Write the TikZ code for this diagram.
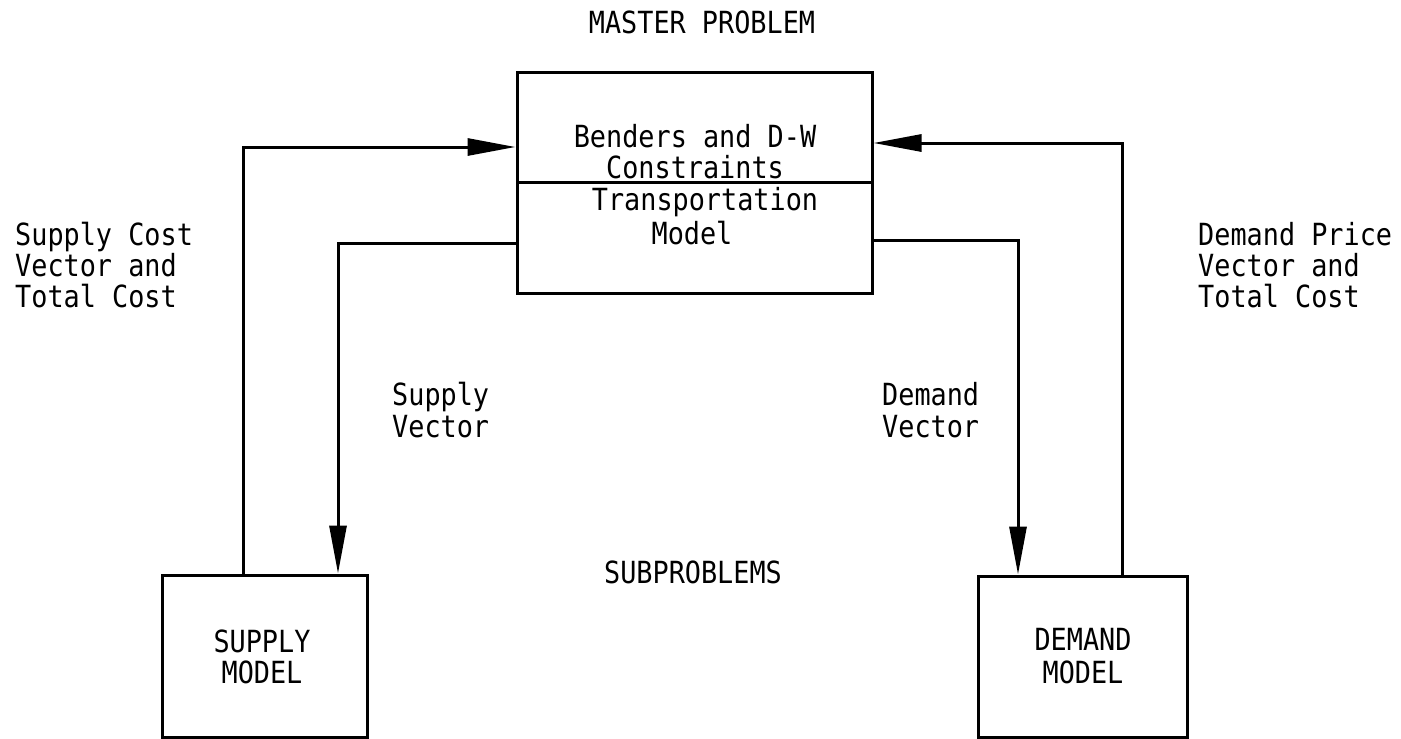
\documentclass[tikz,border=0pt]{standalone}
\usepackage{fontspec}
\newfontfamily\twfont[FakeStretch=0.88]{DejaVu Sans Mono}
\usetikzlibrary{arrows.meta}
\begin{document}
\begin{tikzpicture}[x=1pt,y=-1pt,
  box/.style={draw, line width=3pt, rectangle, inner sep=0pt},
  conn/.style={line width=3pt},
  arr/.style={conn, -{Triangle[length=48pt,width=17pt]}},
  txt/.style={font=\twfont\fontsize{30.5}{31}\selectfont, inner sep=0pt, anchor=base},
  ltxt/.style={txt, anchor=base west}]
\useasboundingbox (0,0) rectangle (1401,739);
% boxes
\node[box, minimum width=355pt, minimum height=110pt] (mtop) at (694.5,127) {};
\node[box, minimum width=355pt, minimum height=111pt] (mbot) at (694.5,237.5) {};
\node[box, minimum width=205pt, minimum height=162pt] (supply) at (264.5,656) {};
\node[box, minimum width=209pt, minimum height=161pt] (demand) at (1082.5,656.5) {};
% texts
\node[txt] (tmaster) at (702,33) {MASTER PROBLEM};
\node[txt] (tbend) at (695,147) {Benders and D-W};
\node[txt] (tcons) at (695,178) {Constraints};
\node[txt] (ttrans) at (705,210) {Transportation};
\node[txt] (tmodel) at (692,244) {Model};
\node[ltxt] (sc1) at (15,245) {Supply Cost};
\node[ltxt] (sc2) at (15,276) {Vector and};
\node[ltxt] (sc3) at (15,307) {Total Cost};
\node[ltxt] (dp1) at (1198,245) {Demand Price};
\node[ltxt] (dp2) at (1198,276) {Vector and};
\node[ltxt] (dp3) at (1198,307) {Total Cost};
\node[ltxt] (sv1) at (392,405) {Supply};
\node[ltxt] (sv2) at (392,437) {Vector};
\node[ltxt] (dv1) at (882,405) {Demand};
\node[ltxt] (dv2) at (882,437) {Vector};
\node[txt] (tsub) at (693,583) {SUBPROBLEMS};
\node[txt] (ts1) at (262,652) {SUPPLY};
\node[txt] (ts2) at (262,683) {MODEL};
\node[txt] (td1) at (1083,650) {DEMAND};
\node[txt] (td2) at (1083,683) {MODEL};
% connectors
\draw[arr] ([xshift=-21.5pt]supply.north) |- ([yshift=-20pt]mtop.west);
\draw[arr] ([yshift=-5.5pt]mbot.west) -| ([xshift=73.5pt]supply.north);
\draw[arr] ([yshift=-2.5pt]mbot.east) -| ([xshift=-64.5pt]demand.north);
\draw[arr] ([xshift=39.5pt]demand.north) |- ([yshift=-16pt]mtop.east);
\end{tikzpicture}
\end{document}
